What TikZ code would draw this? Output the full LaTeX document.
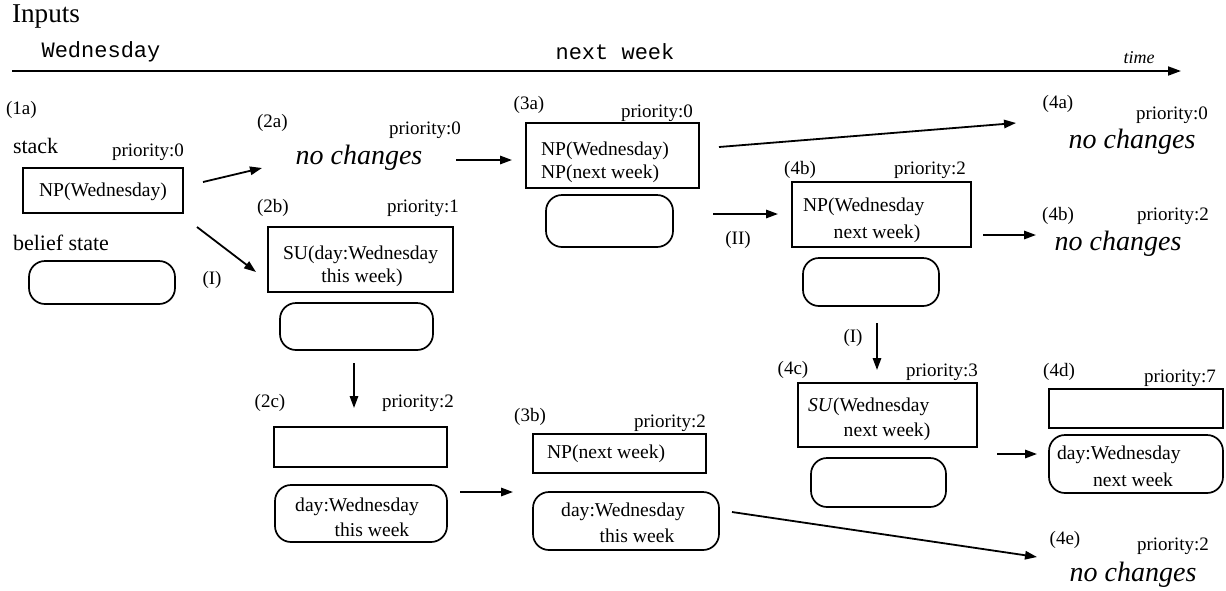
\documentclass[tikz,border=0pt]{standalone}
\usepackage{fontspec}
\setmainfont{Liberation Serif}
\setmonofont{Liberation Mono}
\usetikzlibrary{arrows.meta}
\begin{document}
\begin{tikzpicture}[x=0.5pt,y=-0.5pt,
  every node/.style={inner sep=0pt, outer sep=0pt},
  lbl/.style={font=\fontsize{9.5}{11}\selectfont},
  btxt/.style={font=\fontsize{9.8}{11.5}\selectfont},
  big/.style={font=\fontsize{11}{13}\selectfont},
  title/.style={font=\fontsize{13.6}{16}\selectfont},
  nochg/.style={font=\fontsize{14}{16}\selectfont\itshape},
  mono/.style={font=\fontsize{11}{13}\selectfont\ttfamily},
  timelbl/.style={font=\fontsize{9}{11}\selectfont\itshape},
  stackbox/.style={draw, line width=0.85pt, rectangle},
  beliefbox/.style={draw, line width=0.85pt, rectangle, rounded corners=8pt},
  arr/.style={line width=0.9pt, -{Triangle[length=6pt,width=4.2pt]}},
]
\useasboundingbox (0,0) rectangle (1226,590);

% header
\node[title, anchor=west] (inputs) at (12,16) {Inputs};
\node[mono] (in1) at (101,52) {Wednesday};
\node[mono] (in2) at (615,52) {next week};
\node[timelbl] (timel) at (1139,58) {time};
\coordinate (t0) at (12,71);
\coordinate (t1) at (1181,71);
\draw[line width=0.9pt, -{Triangle[length=6.5pt,width=4.5pt]}] (t0) -- (t1);

% (1a)
\node[lbl, anchor=west] (l1a) at (6,110) {(1a)};
\node[big, anchor=west] (stk) at (13,146) {stack};
\node[lbl] (p1a) at (148,152) {priority:0};
\node[stackbox, minimum width=80pt, minimum height=22.5pt] (s1a) at (103,190.5) {};
\node[btxt] (t1a) at (103,192) {NP(Wednesday)};
\node[big, anchor=west] (bst) at (13,243) {belief state};
\node[beliefbox, minimum width=73pt, minimum height=21.5pt] (b1a) at (102,282.5) {};
\node[lbl] (I1) at (212,280) {(I)};

% (2a)
\node[lbl, anchor=west] (l2a) at (257,123) {(2a)};
\node[lbl] (p2a) at (425,130) {priority:0};
\node[nochg] (n2a) at (359,158) {no changes};

% (2b)
\node[lbl, anchor=west] (l2b) at (257,208) {(2b)};
\node[lbl] (p2b) at (423,208) {priority:1};
\node[stackbox, minimum width=92.5pt, minimum height=32.5pt] (s2b) at (360.5,259.5) {};
\node[btxt, anchor=west] (t2b1) at (283,255) {SU(day:Wednesday};
\node[btxt] (t2b2) at (362,278) {this week)};
\node[beliefbox, minimum width=76.5pt, minimum height=23.5pt] (b2b) at (356.5,326.5) {};

% (2c)
\node[lbl] (l2c) at (270,403) {(2c)};
\node[lbl] (p2c) at (418,403) {priority:2};
\node[stackbox, minimum width=86.5pt, minimum height=20pt] (s2c) at (360.5,447) {};
\node[beliefbox, minimum width=86pt, minimum height=28.5pt] (b2c) at (361,513.5) {};
\node[btxt] (t2c1) at (357,507) {day:Wednesday};
\node[btxt] (t2c2) at (372,530) {this week};

% (3a)
\node[lbl] (l3a) at (529,105) {(3a)};
\node[lbl] (p3a) at (657,113) {priority:0};
\node[stackbox, minimum width=86.5pt, minimum height=32.5pt] (s3a) at (612.5,155.5) {};
\node[btxt, anchor=west] (t3a1) at (541,151) {NP(Wednesday)};
\node[btxt, anchor=west] (t3a2) at (541,174) {NP(next week)};
\node[beliefbox, minimum width=63.5pt, minimum height=26pt] (b3a) at (609.5,221) {};
\node[lbl] (II) at (738,240) {(II)};

% (3b)
\node[lbl] (l3b) at (530,417) {(3b)};
\node[lbl] (p3b) at (670,423) {priority:2};
\node[stackbox, minimum width=86.5pt, minimum height=19.5pt] (s3b) at (619.5,453.5) {};
\node[btxt, anchor=west] (t3b) at (547,454) {NP(next week)};
\node[beliefbox, minimum width=93pt, minimum height=29pt] (b3b) at (626,521) {};
\node[btxt] (t3b1) at (623,512) {day:Wednesday};
\node[btxt] (t3b2) at (637,536) {this week};

% (4a)
\node[lbl] (l4a) at (1058,104) {(4a)};
\node[lbl] (p4a) at (1172,115) {priority:0};
\node[nochg] (n4a) at (1132,142) {no changes};

% (4b)
\node[lbl] (l4b) at (800,170) {(4b)};
\node[lbl] (p4b) at (930,170) {priority:2};
\node[stackbox, minimum width=89.5pt, minimum height=32.5pt] (s4b) at (881.5,214.5) {};
\node[btxt, anchor=west] (t4b1) at (803,207) {NP(Wednesday};
\node[btxt] (t4b2) at (877,234) {next week)};
\node[beliefbox, minimum width=68pt, minimum height=24pt] (b4b) at (871,282) {};

% (4b) no changes
\node[lbl] (l4bb) at (1058,216) {(4b)};
\node[lbl] (p4bb) at (1173,216) {priority:2};
\node[nochg] (n4bb) at (1118,244) {no changes};

% (4c)
\node[lbl] (I2) at (853,338) {(I)};
\node[lbl] (l4c) at (793,370) {(4c)};
\node[lbl] (p4c) at (942,372) {priority:3};
\node[stackbox, minimum width=89.5pt, minimum height=32pt] (s4c) at (887.5,415) {};
\node[btxt, anchor=west] (t4c1) at (808,407) {\textit{SU}(Wednesday};
\node[btxt] (t4c2) at (887,432) {next week)};
\node[beliefbox, minimum width=67.5pt, minimum height=24.5pt] (b4c) at (878.5,482.5) {};

% (4d)
\node[lbl] (l4d) at (1059,372) {(4d)};
\node[lbl] (p4d) at (1180,378) {priority:7};
\node[stackbox, minimum width=87pt, minimum height=19.5pt] (s4d) at (1136,408.5) {};
\node[beliefbox, minimum width=87pt, minimum height=29pt] (b4d) at (1136,464) {};
\node[btxt, anchor=west] (t4d1) at (1057,455) {day:Wednesday};
\node[btxt] (t4d2) at (1133,480) {next week};

% (4e)
\node[lbl] (l4e) at (1065,540) {(4e)};
\node[lbl] (p4e) at (1173,546) {priority:2};
\node[nochg] (n4e) at (1133,575) {no changes};

% connector end points
\coordinate (a1s) at (203,182);  \coordinate (a1e) at (262,168);
\coordinate (a2s) at (197,227);  \coordinate (a2e) at (256,272);
\coordinate (a3s) at (456,160);  \coordinate (a3e) at (512,160);
\coordinate (a4s) at (719,147);  \coordinate (a4e) at (1016,123);
\coordinate (a5s) at (713,214);  \coordinate (a5e) at (778,214);
\coordinate (a6s) at (983,235);  \coordinate (a6e) at (1036,235);
\coordinate (a7s) at (877,323);  \coordinate (a7e) at (877,370);
\coordinate (a8s) at (997,454);  \coordinate (a8e) at (1037,454);
\coordinate (a9s) at (354,363);  \coordinate (a9e) at (354,408);
\coordinate (a10s) at (460,492); \coordinate (a10e) at (513,492);
\coordinate (a11s) at (732,512); \coordinate (a11e) at (1037,557);

\draw[arr] (a1s) -- (a1e);
\draw[arr] (a2s) -- (a2e);
\draw[arr] (a3s) -- (a3e);
\draw[arr] (a4s) -- (a4e);
\draw[arr] (a5s) -- (a5e);
\draw[arr] (a6s) -- (a6e);
\draw[arr] (a7s) -- (a7e);
\draw[arr] (a8s) -- (a8e);
\draw[arr] (a9s) -- (a9e);
\draw[arr] (a10s) -- (a10e);
\draw[arr] (a11s) -- (a11e);
\end{tikzpicture}
\end{document}
